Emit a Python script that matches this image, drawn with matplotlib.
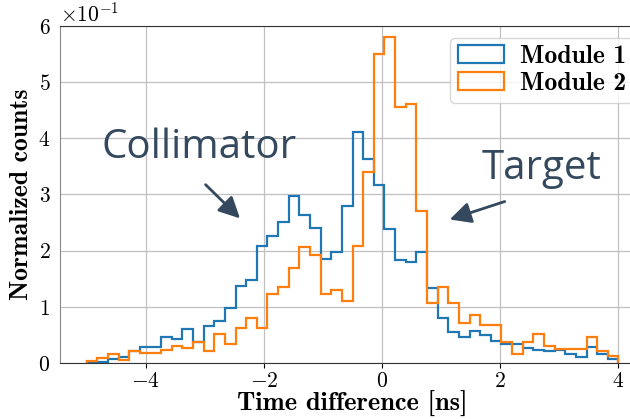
import numpy as np
import matplotlib
matplotlib.use("Agg")
import matplotlib.pyplot as plt

# bin edges and normalized counts
edges = np.linspace(-5, 4, 51)

module1 = np.array([0.01, 0.02, 0.065, 0.10, 0.22, 0.29, 0.29, 0.47, 0.42, 0.60,
                    0.38, 0.66, 0.75, 0.98, 1.37, 1.48, 2.08, 2.27, 2.51, 2.98,
                    2.63, 2.41, 1.85, 1.98, 2.80, 4.12, 3.64, 3.17, 2.39, 1.84,
                    1.80, 1.98, 1.33, 0.80, 0.56, 0.46, 0.57, 0.50, 0.39, 0.34,
                    0.33, 0.26, 0.24, 0.21, 0.24, 0.16, 0.11, 0.28, 0.16, 0.07]) / 10

module2 = np.array([0.04, 0.09, 0.16, 0.05, 0.22, 0.17, 0.17, 0.23, 0.30, 0.26,
                    0.38, 0.21, 0.52, 0.34, 0.63, 0.81, 0.63, 1.23, 1.36, 1.70,
                    2.07, 1.92, 1.23, 1.30, 1.10, 2.08, 3.40, 5.51, 5.80, 4.55,
                    4.62, 2.71, 1.06, 1.36, 1.06, 0.71, 0.85, 0.68, 0.68, 0.38,
                    0.16, 0.37, 0.51, 0.30, 0.25, 0.25, 0.25, 0.46, 0.21, 0.12]) / 10

labels = ['Module 1', 'Module 2']

plt.rcParams['font.family'] = 'serif'
plt.rcParams['font.serif'] = ['cmr10']
plt.rcParams['mathtext.fontset'] = 'cm'
plt.rcParams['axes.formatter.use_mathtext'] = True
plt.rcParams['axes.unicode_minus'] = True

fig = plt.figure(figsize=(6.3, 4.19), dpi=100)
ax = fig.add_axes([60/630, 1 - 363/419, 585/630, 337/419])

centers = edges[:-1]
ax.hist(centers, bins=edges, weights=module1, histtype='step', color='#1f77b4',
        linewidth=1.6, label=labels[0])
ax.hist(centers, bins=edges, weights=module2, histtype='step', color='#ff7f0e',
        linewidth=1.6, label=labels[1])

ax.set_xlim(-5.45, 4.45)
ax.set_ylim(0, 0.6)
ax.set_xticks([-4, -2, 0, 2, 4])
ax.ticklabel_format(style='sci', axis='y', scilimits=(0, 0))
ax.yaxis.get_offset_text().set_fontsize(15.5)
ax.tick_params(labelsize=15.5)
ax.tick_params(axis='x', pad=2.5)
ax.tick_params(axis='y', length=0, pad=7)
ax.grid(True, color='#c0c0c0', linewidth=0.9)
ax.set_axisbelow(True)
for s in ax.spines.values():
    s.set_color('#333333')
ax.spines['left'].set_color('#888888')

ax.set_xlabel('Time difference [ns]', family='cmb10', size=19, labelpad=0)
ax.set_ylabel('Normalized counts', family='cmb10', size=18.5, labelpad=4)

leg = ax.legend(loc='upper right', prop={'family': 'cmb10', 'size': 18.5},
                handlelength=1.8, labelspacing=0.15, borderpad=0.3,
                borderaxespad=0.45, handletextpad=0.6)

note = '#34495e'
ax.annotate('', xy=(-2.37, 0.254), xytext=(-3.02, 0.321),
            arrowprops=dict(arrowstyle='-|>', color=note, lw=2, mutation_scale=32))
ax.annotate('', xy=(1.10, 0.254), xytext=(2.12, 0.289),
            arrowprops=dict(arrowstyle='-|>', color=note, lw=2, mutation_scale=32))
ax.text(-3.1, 0.383, 'Collimator', color=note, fontsize=29, family='Open Sans',
        ha='center', va='center')
ax.text(2.7, 0.345, 'Target', color=note, fontsize=29, family='Open Sans',
        ha='center', va='center')

fig.savefig('out.png', dpi=100)
